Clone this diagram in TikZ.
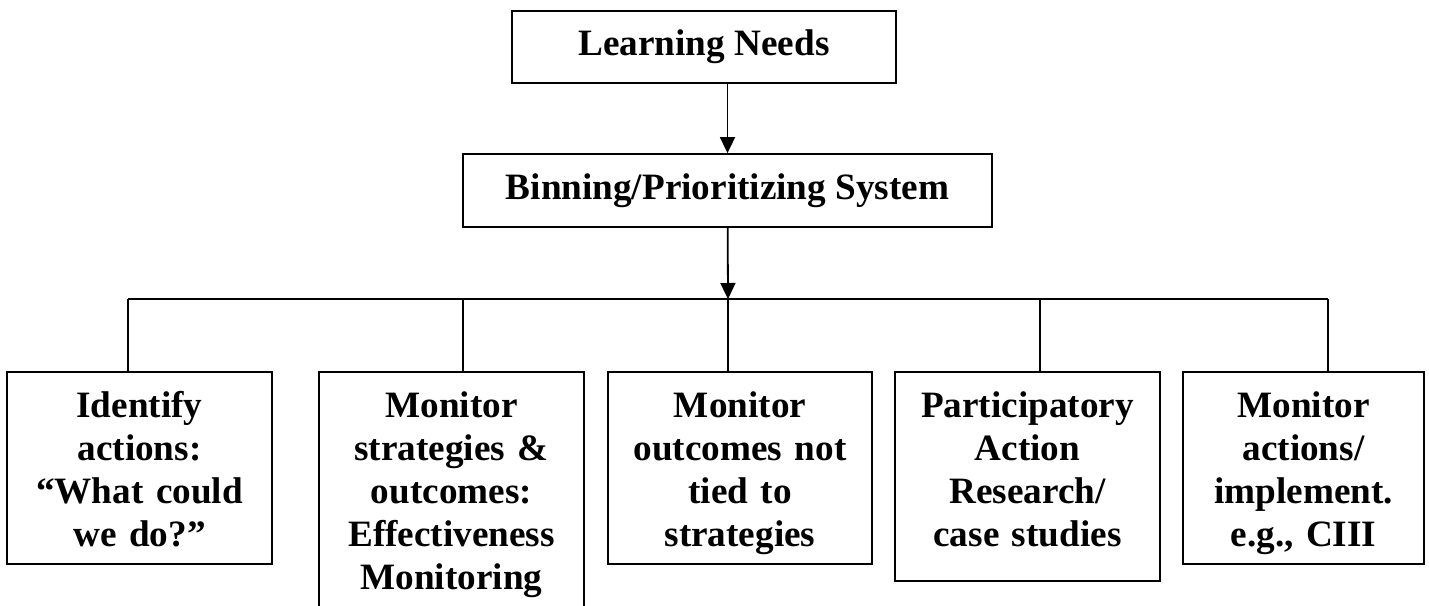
\documentclass[tikz,border=0pt]{standalone}
\usepackage{fontspec}
\setmainfont{Liberation Serif}
\usetikzlibrary{arrows.meta}
\frenchspacing

\begin{document}
\begin{tikzpicture}[x=0.5pt, y=-0.5pt, line width=0.9pt,
    box/.style={draw, inner sep=0pt, align=center, font=\fontsize{18.6pt}{21.5pt}\selectfont\bfseries},
    leaf/.style={box, anchor=north, text height=23pt, text depth=#1},
    arrow/.style={-{Triangle[length=8pt, width=7.5pt]}}]
    %\draw[lightgray] (0, 0) grid[step=100] (1429, 605);
    \useasboundingbox (0, 0) rectangle (1429, 605);
    \node[box, minimum width=192pt, minimum height=36pt] (learn) at (704, 47) {Learning Needs};
    \node[box, minimum width=264.5pt, minimum height=36.5pt] (bin) at (727.5, 190.5) {Binning/Prioritizing System};
    \node[leaf=73pt, text width=132.5pt] (act) at (139.5, 371) {Identify\\actions:\\“What could\\we do?”};
    \node[leaf=95pt, text width=132.5pt] (eff) at (451.5, 371) {Monitor\\strategies \&\\outcomes:\\Effectiveness\\Monitoring};
    \node[leaf=73pt, text width=132pt] (outc) at (740, 371) {Monitor\\outcomes not\\tied to\\strategies};
    \node[leaf=81.5pt, text width=132.5pt] (par) at (1027.5, 371) {Participatory\\Action\\Research/\\case studies};
    \node[leaf=73pt, text width=120.5pt] (impl) at (1303.5, 371) {Monitor\\actions/\\implement.\\e.g., CIII};
    \coordinate (split) at (728, 299);
    \draw[arrow] (learn.south -| bin.north) -- (bin.north);
    \draw[arrow] (bin) -- (split);
    \foreach \x/\b in {128/act, 463/eff, 728/outc, 1040/par, 1328/impl} {
        \coordinate (bus-\b) at (\x, 299);
        \draw (bus-\b) -- (bus-\b |- \b.north);
    }
    \draw (bus-act) -- (bus-impl);
\end{tikzpicture}
\end{document}
